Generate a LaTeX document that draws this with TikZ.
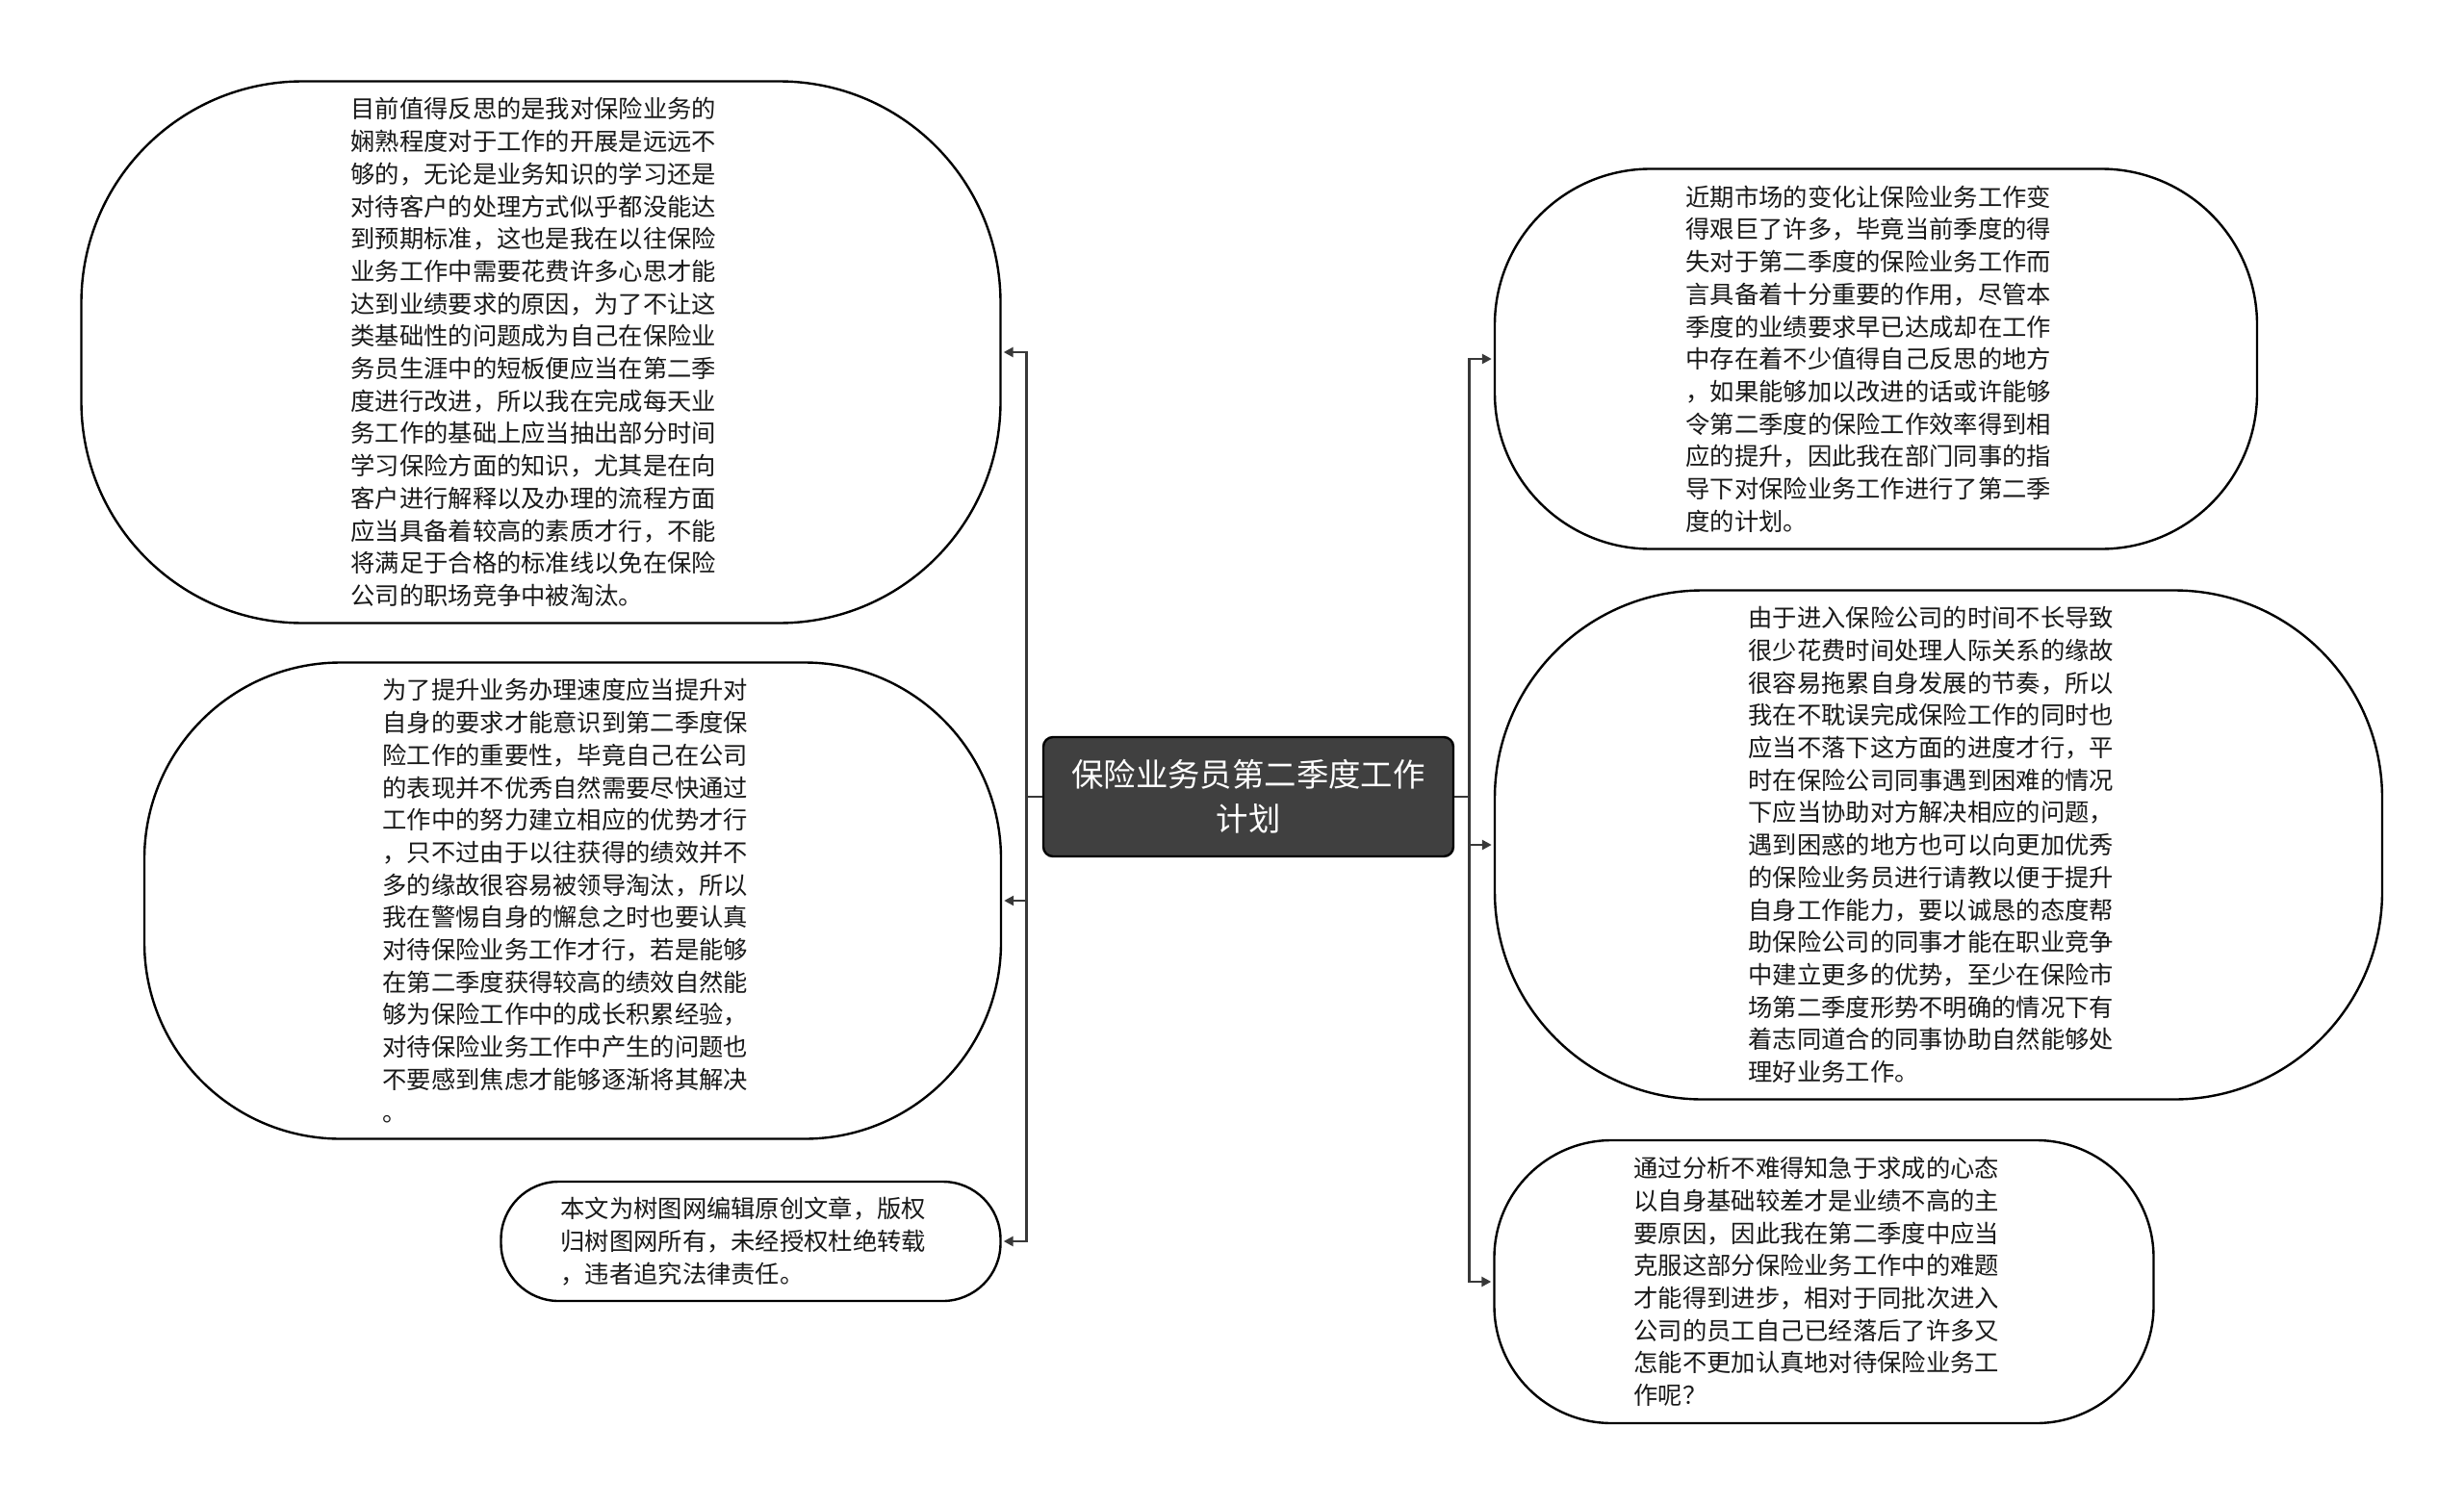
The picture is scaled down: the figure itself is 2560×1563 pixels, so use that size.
\documentclass[tikz,border=0pt]{standalone}
\usepackage{fontspec}
\setmainfont{Noto Sans CJK SC}
\usetikzlibrary{arrows.meta}

\tikzset{
  topic/.style={draw=black, line width=2.4pt, fill=white, rounded corners=#1,
    align=left, text width=395pt, inner sep=0pt, text=black!90,
    font=\fontsize{25.3}{33.7}\selectfont},
  root/.style={draw=black, line width=2.4pt, fill=black!75, rounded corners=10pt,
    align=center, inner sep=0pt, text=white,
    font=\fontsize{33.4}{46}\selectfont},
  conn/.style={draw=black!78, line width=2.8pt, shorten >=2pt,
    -{Triangle[length=10pt,width=10pt]}}
}

\begin{document}
\begin{tikzpicture}[x=1pt, y=-1pt]
    \fill[white] (0,0) rectangle (2560,1563);
    \useasboundingbox (0,0) rectangle (2560,1563);

    \node[root, minimum width=426pt, minimum height=124pt] (root) at (1297,828)
        {保险业务员第二季度工作\\计划};

    \node[topic=230pt, minimum width=955pt, minimum height=563pt] (l1) at (562,366) {%
        目前值得反思的是我对保险业务的\\
        娴熟程度对于工作的开展是远远不\\
        够的，无论是业务知识的学习还是\\
        对待客户的处理方式似乎都没能达\\
        到预期标准，这也是我在以往保险\\
        业务工作中需要花费许多心思才能\\
        达到业绩要求的原因，为了不让这\\
        类基础性的问题成为自己在保险业\\
        务员生涯中的短板便应当在第二季\\
        度进行改进，所以我在完成每天业\\
        务工作的基础上应当抽出部分时间\\
        学习保险方面的知识，尤其是在向\\
        客户进行解释以及办理的流程方面\\
        应当具备着较高的素质才行，不能\\
        将满足于合格的标准线以免在保险\\
        公司的职场竞争中被淘汰。};
    \node[topic=204pt, minimum width=890pt, minimum height=495pt] (l2) at (595,936) {%
        为了提升业务办理速度应当提升对\\
        自身的要求才能意识到第二季度保\\
        险工作的重要性，毕竟自己在公司\\
        的表现并不优秀自然需要尽快通过\\
        工作中的努力建立相应的优势才行\\
        ，只不过由于以往获得的绩效并不\\
        多的缘故很容易被领导淘汰，所以\\
        我在警惕自身的懈怠之时也要认真\\
        对待保险业务工作才行，若是能够\\
        在第二季度获得较高的绩效自然能\\
        够为保险工作中的成长积累经验，\\
        对待保险业务工作中产生的问题也\\
        不要感到焦虑才能够逐渐将其解决\\
        。};
    \node[topic=60pt, minimum width=519pt, minimum height=124pt] (l3) at (780,1290) {%
        本文为树图网编辑原创文章，版权\\
        归树图网所有，未经授权杜绝转载\\
        ，违者追究法律责任。};

    \node[topic=162pt, minimum width=792pt, minimum height=395pt] (r1) at (1949,373) {%
        近期市场的变化让保险业务工作变\\
        得艰巨了许多，毕竟当前季度的得\\
        失对于第二季度的保险业务工作而\\
        言具备着十分重要的作用，尽管本\\
        季度的业绩要求早已达成却在工作\\
        中存在着不少值得自己反思的地方\\
        ，如果能够加以改进的话或许能够\\
        令第二季度的保险工作效率得到相\\
        应的提升，因此我在部门同事的指\\
        导下对保险业务工作进行了第二季\\
        度的计划。};
    \node[topic=216pt, minimum width=922pt, minimum height=529pt] (r2) at (2014,878) {%
        由于进入保险公司的时间不长导致\\
        很少花费时间处理人际关系的缘故\\
        很容易拖累自身发展的节奏，所以\\
        我在不耽误完成保险工作的同时也\\
        应当不落下这方面的进度才行，平\\
        时在保险公司同事遇到困难的情况\\
        下应当协助对方解决相应的问题，\\
        遇到困惑的地方也可以向更加优秀\\
        的保险业务员进行请教以便于提升\\
        自身工作能力，要以诚恳的态度帮\\
        助保险公司的同事才能在职业竞争\\
        中建立更多的优势，至少在保险市\\
        场第二季度形势不明确的情况下有\\
        着志同道合的同事协助自然能够处\\
        理好业务工作。};
    \node[topic=122pt, minimum width=685pt, minimum height=294pt] (r3) at (1895,1332) {%
        通过分析不难得知急于求成的心态\\
        以自身基础较差才是业绩不高的主\\
        要原因，因此我在第二季度中应当\\
        克服这部分保险业务工作中的难题\\
        才能得到进步，相对于同批次进入\\
        公司的员工自己已经落后了许多又\\
        怎能不更加认真地对待保险业务工\\
        作呢？};

    \draw[conn] (root.west) -- ++(-16,0) |- (l1.east);
    \draw[conn] (root.west) -- ++(-16,0) |- (l2.east);
    \draw[conn] (root.west) -- ++(-16,0) |- (l3.east);
    \draw[conn] (root.east) -- ++(15,0) |- (r1.west);
    \draw[conn] (root.east) -- ++(15,0) |- (r2.west);
    \draw[conn] (root.east) -- ++(15,0) |- (r3.west);
\end{tikzpicture}
\end{document}
